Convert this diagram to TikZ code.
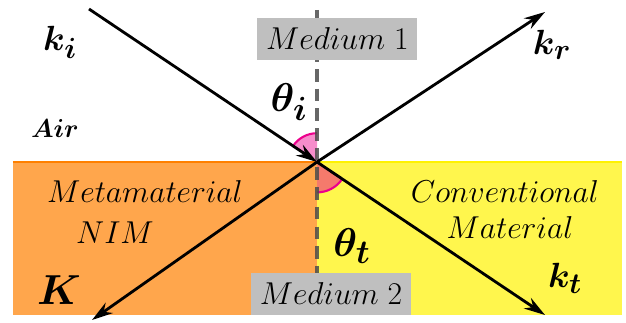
\documentclass[tikz,border=0pt]{standalone}
\usepackage{amsmath}
\usetikzlibrary{arrows.meta}

\begin{document}
\begin{tikzpicture}[>=Stealth, font=\huge,
  wave/.style={->, line width=2pt, >={Stealth[length=15pt,width=9pt]}},
  medbox/.style={fill=black!25, minimum width=3.69cm, minimum height=0.97cm, scale=1.085},
  txt/.style={scale=1.085},
  klbl/.style={font=\Huge},
  anglearc/.style={magenta, line width=1.5pt}]

\useasboundingbox (-7.925,-4.0) rectangle (7.725,4.05);

% Two media
\fill[orange!70] (-7.6,-3.825) rectangle (0,0);
\fill[yellow!70] (0,-3.825) rectangle (7.625,0);
\draw[orange, line width=1.2pt] (-7.6,0) -- (0,0);
\draw[yellow, line width=1.2pt] (0,0) -- (7.625,0);

% Points of the rays
\coordinate (O) at (0,0);
\coordinate (kiS) at (-5.7,3.825);
\coordinate (krE) at (5.7,3.75);
\coordinate (KE) at (-5.625,-3.95);
\coordinate (ktE) at (5.7,-3.825);
\coordinate (nTop) at (0,3.8);
\coordinate (nBot) at (0,-3.825);

% Angles
\fill[magenta, fill opacity=0.45] (O) -- (90:0.72) arc (90:146.4:0.72) -- cycle;
\draw[anglearc] (90:0.72) arc (90:146.4:0.72);
\fill[magenta, fill opacity=0.5] (O) -- (270:0.76) arc (270:326:0.76) -- cycle;
\draw[anglearc] (270:0.76) arc (270:326:0.76);

% Normal
\draw[black!70, line width=3.2pt, dash pattern=on 9pt off 5pt, opacity=0.85] (nTop) -- (nBot);

\node[medbox] (med1) at (0.51,3.075) {$Medium\;1$};
\node[medbox] (med2) at (0.35,-3.29) {$Medium\;2$};

% Wave vectors
\draw[wave] (kiS) -- (O);
\draw[wave] (O) -- (krE);
\draw[wave] (O) -- (KE);
\draw[wave] (O) -- (ktE);

% Labels
\node[klbl] (ki) at (-6.425,3.0) {$\boldsymbol{k_i}$};
\node[klbl] (kr) at (5.875,2.925) {$\boldsymbol{k_r}$};
\node[klbl, scale=1.2] (K) at (-6.45,-3.2) {$\boldsymbol{K}$};
\node[klbl] (kt) at (6.2,-2.9) {$\boldsymbol{k_t}$};
\node[klbl, scale=1.15] (thi) at (-0.7,1.5) {$\boldsymbol{\theta_i}$};
\node[klbl, scale=1.15] (tht) at (0.875,-2.1) {$\boldsymbol{\theta_t}$};
\node[font=\LARGE, scale=1.07] (air) at (-6.55,0.85) {$\boldsymbol{Air}$};
\node[txt] (meta) at (-4.3,-0.75) {$Metamaterial$};
\node[txt] (nim) at (-5.05,-1.775) {$NIM$};
\node[txt] (conv) at (4.7,-0.75) {$Conventional$};
\node[txt] (mat) at (4.825,-1.65) {$Material$};

\end{tikzpicture}
\end{document}
